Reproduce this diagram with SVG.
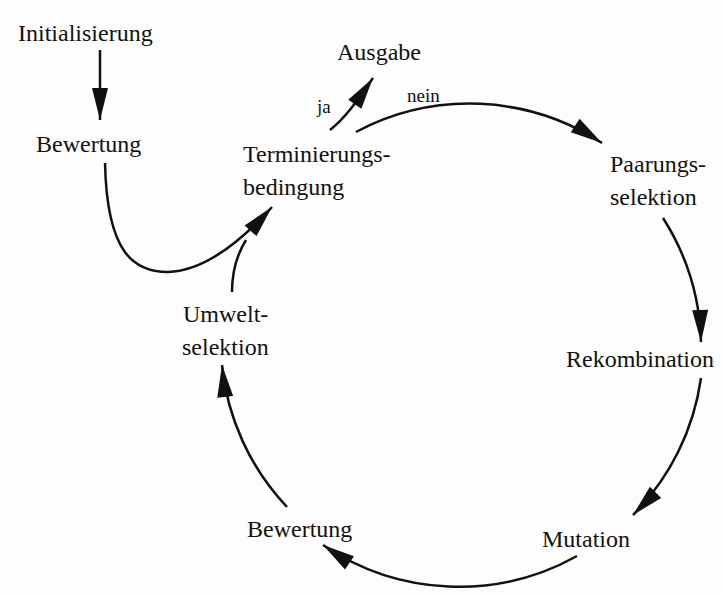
<svg xmlns="http://www.w3.org/2000/svg" width="723" height="596" viewBox="0 0 723 596">
<style>
text{font-family:"Liberation Serif","Times New Roman",serif;fill:#111;font-size:24px}
text.small{font-size:19px}
.c{fill:none;stroke:#111;stroke-width:2.5;marker-end:url(#ah)}
.n{fill:none;stroke:#111;stroke-width:2.5}
</style>
<defs>
<marker id="ah" markerUnits="userSpaceOnUse" markerWidth="34" markerHeight="18" refX="32" refY="8" orient="auto" overflow="visible">
<path d="M0,0 L32,8 L0,16 Z" fill="#111"/>
</marker>
</defs>
<rect width="723" height="596" fill="#fdfdfd"/>
<g id="connectors">
<path class="c" d="M100,50 L100,120"/>
<path class="c" d="M105,163 C107,255 135,272 168,272 C200,271 235,248 272,207"/>
<path class="n" d="M232,292 C232,272 236,256 246,240"/>
<path class="c" d="M330,130 C345,118 355,104 373,78"/>
<path class="c" d="M356,132 A242,242 0 0 1 602,143"/>
<path class="c" d="M663,218 A242,242 0 0 1 701,342"/>
<path class="c" d="M701,378 A242,242 0 0 1 633,515"/>
<path class="c" d="M577,556 A242,242 0 0 1 323,545"/>
<path class="c" d="M287,507 A242,242 0 0 1 222,365"/>
</g>
<g id="init"><text x="18" y="41">Initialisierung</text></g>
<g id="bewertung1"><text x="36" y="152">Bewertung</text></g>
<g id="terminierung"><text x="243" y="162">Terminierungs-</text><text x="243" y="195">bedingung</text></g>
<g id="ausgabe"><text x="337" y="60">Ausgabe</text></g>
<g id="label-ja"><text class="small" x="317" y="113">ja</text></g>
<g id="label-nein"><text class="small" x="407" y="102">nein</text></g>
<g id="paarung"><text x="610" y="172">Paarungs-</text><text x="610" y="205">selektion</text></g>
<g id="rekombination"><text x="566" y="367">Rekombination</text></g>
<g id="mutation"><text x="542" y="547">Mutation</text></g>
<g id="bewertung2"><text x="247" y="537">Bewertung</text></g>
<g id="umwelt"><text x="183" y="322">Umwelt-</text><text x="182" y="355">selektion</text></g>
</svg>
